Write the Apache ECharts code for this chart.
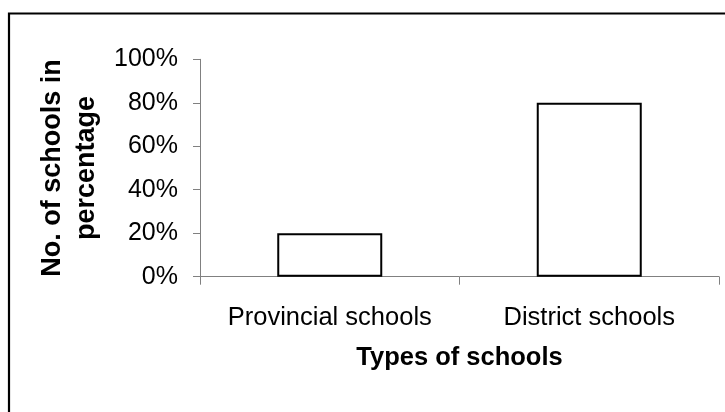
<!DOCTYPE html>
<html>
<head>
<meta charset="utf-8">
<script src="https://cdn.jsdelivr.net/npm/echarts@6/dist/echarts.min.js"></script>
<style>
html,body{margin:0;padding:0;background:#fff;}
#chart{width:725px;height:412px;}
</style>
</head>
<body>
<div id="chart"></div>
<script>
const categories = ['Provincial schools', 'District schools'];
const percentages = [20, 80];
const yTicks = { min: 0, max: 100, interval: 20 };
const xAxisTitle = 'Types of schools';
const yAxisTitle = 'No. of schools in\npercentage';

const chart = echarts.init(document.getElementById('chart'), null, { renderer: 'canvas' });
const FONT = '"Liberation Sans", Arial, sans-serif';
chart.setOption({
  animation: false,
  backgroundColor: '#ffffff',
  graphic: [{
    type: 'rect',
    shape: { x: 9, y: 13.5, width: 800, height: 500 },
    style: { fill: 'none', stroke: '#000', lineWidth: 2.2 },
    silent: true
  }],
  grid: { left: 200, right: 6, top: 59.3, bottom: 135.3 },
  xAxis: {
    type: 'category',
    data: categories,
    name: xAxisTitle,
    nameLocation: 'middle',
    nameGap: 68,
    nameTextStyle: { fontFamily: FONT, fontSize: 25.5, fontWeight: 'bold', color: '#000' },
    axisLine: { lineStyle: { color: '#808080', width: 1 } },
    axisTick: { show: true, length: 8, lineStyle: { color: '#808080' } },
    axisLabel: { interval: 0, hideOverlap: false, margin: 28, fontFamily: FONT, fontSize: 25.5, color: '#000' }
  },
  yAxis: {
    type: 'value',
    min: yTicks.min,
    max: yTicks.max,
    interval: yTicks.interval,
    name: yAxisTitle,
    nameLocation: 'middle',
    nameRotate: 90,
    nameGap: 94,
    nameTextStyle: { fontFamily: FONT, fontSize: 27, fontWeight: 'bold', color: '#000', lineHeight: 34, align: 'center' },
    axisLine: { show: true, lineStyle: { color: '#808080', width: 1 } },
    axisTick: { show: true, length: 7, lineStyle: { color: '#808080' } },
    splitLine: { show: false },
    axisLabel: { margin: 22, fontFamily: FONT, fontSize: 25, color: '#000', formatter: '{value}%' }
  },
  series: [{
    type: 'bar',
    data: percentages,
    barWidth: 105,
    itemStyle: { color: '#ffffff', borderColor: '#000', borderWidth: 2 },
    silent: true
  }]
});
</script>
</body>
</html>
